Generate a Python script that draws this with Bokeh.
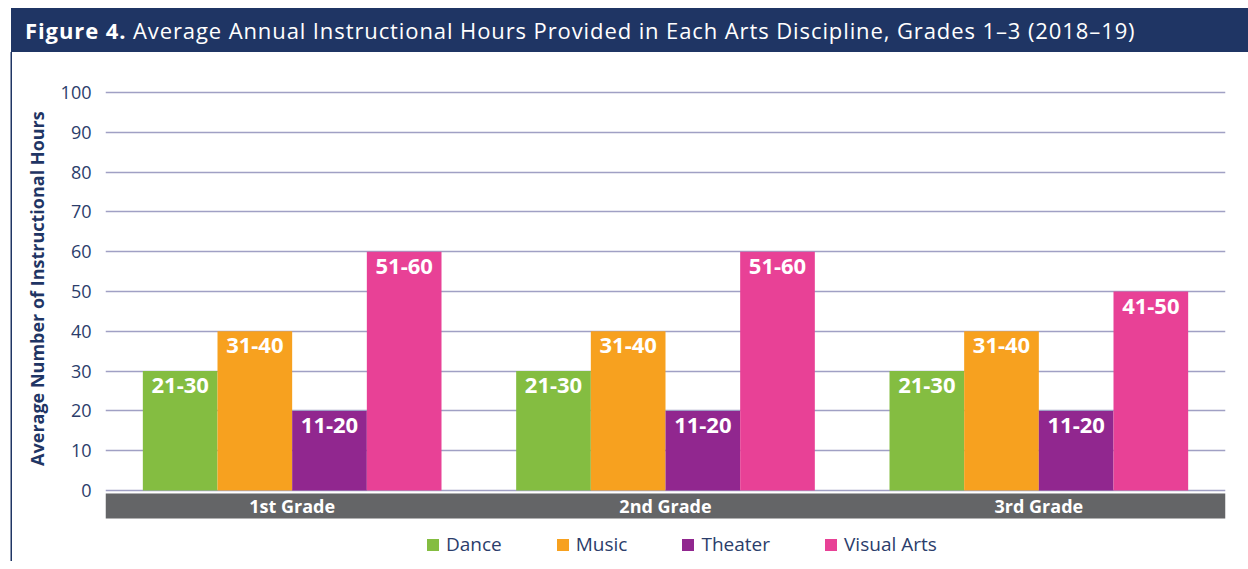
from bokeh.plotting import figure
from bokeh.models import (Range1d, FactorRange, Legend, LegendItem, BoxAnnotation,
                          ColumnDataSource, Div, FixedTicker)
from bokeh.transform import dodge
from bokeh.layouts import column
from bokeh.core.properties import value
from bokeh.embed import file_html
from bokeh.resources import INLINE

grades = ["1st Grade", "2nd Grade", "3rd Grade"]
disciplines = ["Dance", "Music", "Theater", "Visual Arts"]
dance = [30, 30, 30]
music = [40, 40, 40]
theater = [20, 20, 20]
visual_arts = [60, 60, 50]
dance_lbl = ["21-30", "21-30", "21-30"]
music_lbl = ["31-40", "31-40", "31-40"]
theater_lbl = ["11-20", "11-20", "11-20"]
visual_lbl = ["51-60", "51-60", "41-50"]
y_ticks = [0, 10, 20, 30, 40, 50, 60, 70, 80, 90, 100]
y_title = "Average Number of Instructional Hours"
colors = ["#84bd41", "#f7a11f", "#91278f", "#e84196"]

NAVY = "#1f3564"
TXT = "#2b3d6b"
FONT = "Open Sans"

title_html = (
    '<div style="width:1237px;height:44px;background:%s;color:white;'
    'font-family:\'Open Sans\';font-size:22px;letter-spacing:0.9px;line-height:44px;'
    'padding-left:14px;box-sizing:border-box;white-space:nowrap;overflow:hidden;">'
    '<b>Figure 4.</b> Average Annual Instructional Hours Provided in Each Arts '
    'Discipline, Grades 1&ndash;3 (2018&ndash;19)</div>' % NAVY
)
div = Div(text=title_html, width=1237, height=44, margin=(8, 0, 0, 11))

src = ColumnDataSource(dict(grade=grades, dance=dance, music=music,
                            theater=theater, visual=visual_arts,
                            dl=dance_lbl, ml=music_lbl, tl=theater_lbl, vl=visual_lbl))

p = figure(x_range=FactorRange(*grades), y_range=Range1d(-17.83, 100.5),
           width=1228, height=509, output_backend="svg", toolbar_location=None,
           min_border_left=93, min_border_right=15, min_border_top=38,
           min_border_bottom=0, outline_line_color=None,
           margin=(0, 0, 0, 12), styles={"box-shadow": "-1.5px 0 0 0 %s" % NAVY})

p.add_layout(BoxAnnotation(top=-0.75, bottom=-7.0, fill_color="#646567",
                           fill_alpha=1, line_color=None, level="underlay"))

renderers = []
offsets = [-0.3, -0.1, 0.1, 0.3]
fields = ["dance", "music", "theater", "visual"]
lbls = ["dl", "ml", "tl", "vl"]
for f, lf, off, c in zip(fields, lbls, offsets, colors):
    r = p.vbar(x=dodge("grade", off, range=p.x_range), top=f, bottom=0, width=0.2,
               source=src, fill_color=c, line_color=None)
    renderers.append(r)
    p.text(x=dodge("grade", off, range=p.x_range), y=f, text=lf, source=src,
           text_color="white", text_font=value(FONT), text_font_style="bold",
           text_font_size="22px", text_align="center", text_baseline="top",
           y_offset=7)

p.text(x=grades, y=[-3.86] * 3, text=grades, text_color="white",
       text_font=value(FONT), text_font_style="bold", text_font_size="18px",
       text_align="center", text_baseline="middle")

p.xaxis.visible = False
p.xgrid.visible = False
p.ygrid.grid_line_color = "#a0a0c4"
p.ygrid.grid_line_width = 1.5
p.yaxis.ticker = FixedTicker(ticks=y_ticks)
p.yaxis.axis_line_color = None
p.yaxis.major_tick_line_color = None
p.yaxis.minor_tick_line_color = None
p.yaxis.major_tick_out = 0
p.yaxis.major_label_standoff = 14
p.yaxis.major_label_text_font = FONT
p.yaxis.major_label_text_font_size = "18px"
p.yaxis.major_label_text_color = TXT
# leading no-break spaces lift the centred label over the 0-100 part of the frame
p.yaxis.axis_label = "\u00a0" * 16 + y_title
p.yaxis.axis_label_text_font = FONT
p.yaxis.axis_label_text_font_style = "bold"
p.yaxis.axis_label_text_font_size = "18px"
p.yaxis.axis_label_text_color = NAVY
p.yaxis.axis_label_standoff = 9

legend = Legend(items=[LegendItem(label=d, renderers=[r]) for d, r in zip(disciplines, renderers)],
                orientation="horizontal", location=(320, 4), padding=0, margin=0,
                spacing=53, glyph_width=15, glyph_height=15, label_standoff=6,
                label_text_font=FONT, label_text_font_size="19px",
                label_text_color=TXT, border_line_color=None,
                background_fill_alpha=0)
p.add_layout(legend, "center")

layout = column(div, p, spacing=0)
open("out.html", "w").write(file_html(layout, INLINE))
